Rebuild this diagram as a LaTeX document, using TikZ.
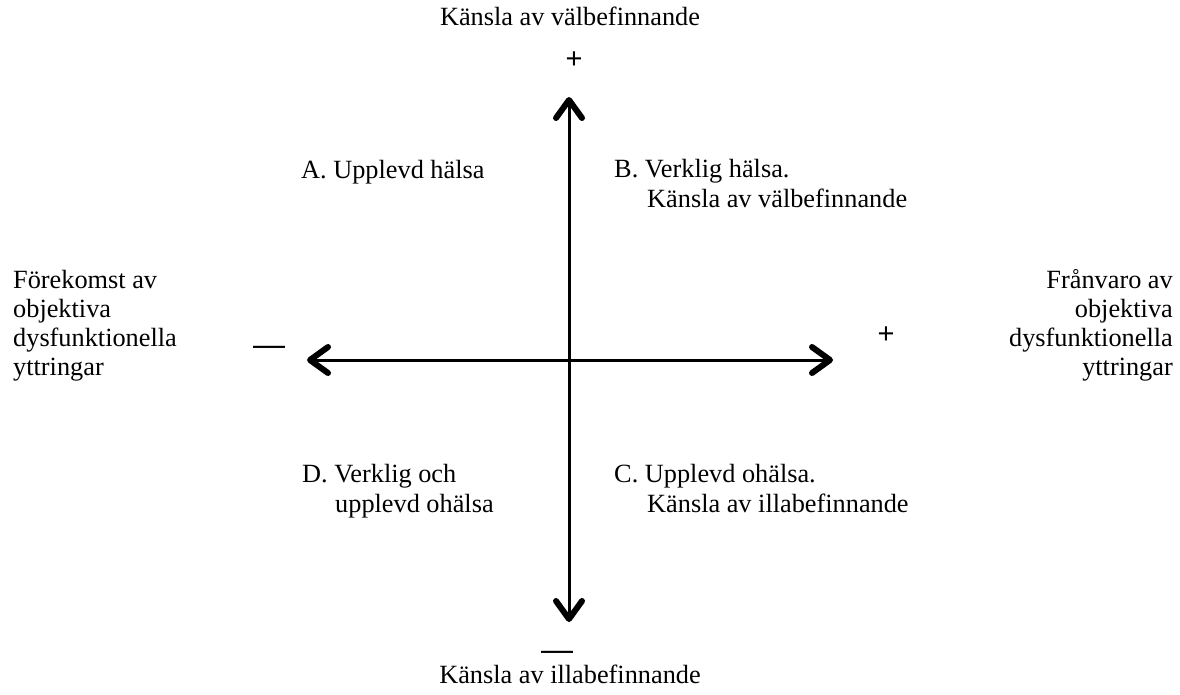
\documentclass[tikz,border=0pt]{standalone}
\usepackage{fontspec}
\setmainfont{Liberation Serif}
\newfontfamily\signfont{Liberation Sans}
\usetikzlibrary{arrows.meta}
\newcommand\axislabel{\fontsize{26.3}{28.7}\selectfont}
\newcommand\quadlabel{\fontsize{26.3}{30}\selectfont}
\newcommand\signplus{\signfont\fontsize{29}{29}\selectfont}
\newcommand\signminus{\signfont\fontsize{32}{32}\selectfont}
\begin{document}
\begin{tikzpicture}[x=1pt,y=-1pt,>={Straight Barb[length=18pt,width=26pt,line width=6pt,round]}]
    \tikzstyle{lbl}=[inner sep=0pt,font=\axislabel]
    \tikzstyle{quad}=[inner sep=0pt,font=\quadlabel,align=left,anchor=base west]
    \tikzstyle{sign}=[inner sep=0pt,anchor=base]
    \tikzstyle{axis}=[<->,line width=3pt]
    \useasboundingbox (0,0) rectangle (1180,694);

    \coordinate (top) at (569,97);
    \coordinate (bottom) at (569,622);
    \coordinate (left) at (307,360);
    \coordinate (right) at (833,360);

    \draw[axis] (bottom) -- (top);
    \draw[axis] (left) -- (right);

    \node[lbl,anchor=base] (wellbeing) at (570,25) {Känsla av välbefinnande};
    \node[inner sep=0pt,font=\signplus] (topplus) at (574,60) {+};
    \node[sign,font=\signminus] (bottomminus) at (557,660) {\smash{—}};
    \node[lbl,anchor=base] (illbeing) at (570,683) {Känsla av illabefinnande};

    % last line sets the baseline
    \node[lbl,align=left,anchor=base west] (presence) at (13,375) {Förekomst av\\objektiva\\dysfunktionella\\yttringar};
    \node[lbl,align=right,anchor=base east] (absence) at (1173,375) {Frånvaro av\\objektiva\\dysfunktionella\\yttringar};
    \node[sign,font=\signminus] (leftminus) at (269,355) {\smash{—}};
    \node[inner sep=0pt,font=\signplus] (rightplus) at (886,335) {+};

    \node[quad] (quadA) at (301,178) {A. Upplevd hälsa};
    \node[quad] (quadB) at (614,207) {B. Verklig hälsa.\\\hspace*{33pt}Känsla av välbefinnande};
    \node[quad] (quadD) at (302,512) {D. Verklig och\\\hspace*{33pt}upplevd ohälsa};
    \node[quad] (quadC) at (614,512) {C. Upplevd ohälsa.\\\hspace*{33pt}Känsla av illabefinnande};
\end{tikzpicture}
\end{document}
